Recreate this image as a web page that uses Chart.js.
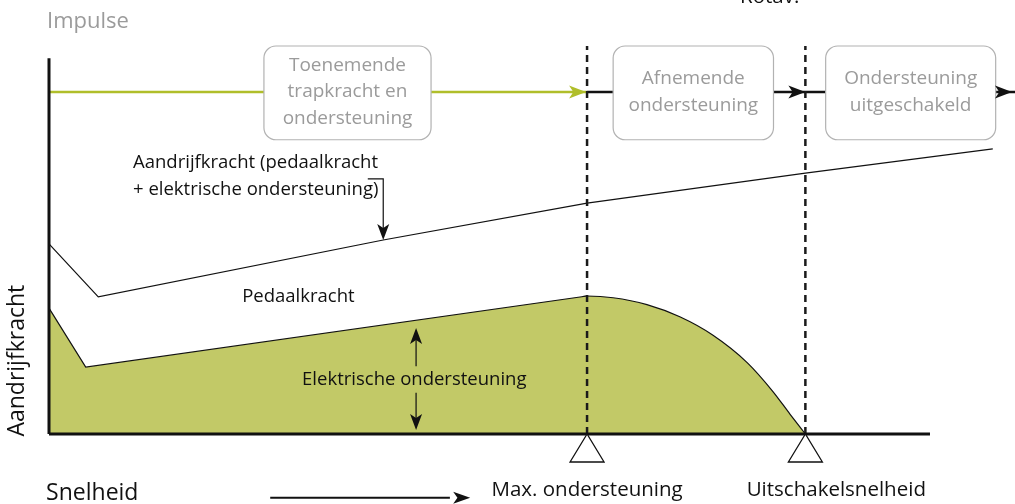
<!DOCTYPE html>
<html>
<head>
<meta charset="utf-8">
<script src="https://cdn.jsdelivr.net/npm/chart.js@4/dist/chart.umd.min.js"></script>
<style>
  html, body { margin: 0; padding: 0; background: #fff; }
  #wrap { width: 1015px; height: 504px; position: relative; }
</style>
</head>
<body>
<div id="wrap"><canvas id="assist-plot"></canvas></div>
<script>
// speed (x) and force (y) in relative units, 0..100
const drive_x = [0, 5.1, 34.6, 55.7, 78.3, 97.7]
const drive_y = [43.8, 31.6, 44.7, 53.2, 60.1, 65.7]

// assist: straight part up to max assist, then the rounded drop to cut-off
const assist_x = [0, 3.8, 55.7]
const assist_y = [29.0, 15.4, 31.8]
const assist_drop_x = [55.2, 55.7, 58.4, 61.9, 65.3, 68.7, 72.3, 74.9, 76.7, 78.3]
const assist_drop_y = [31.65, 31.8, 31.4, 29.8, 27.0, 22.8, 16.4, 9.9, 4.6, 0]

const marker_x = [55.7, 78.3]
const marker_labels = ['Max. ondersteuning', 'Uitschakelsnelheid']

const phase_labels = [
    ['Toenemende', 'trapkracht en', 'ondersteuning'],
    ['Afnemende', 'ondersteuning'],
    ['Ondersteuning', 'uitgeschakeld']
]
const phase_center_x = [30.9, 66.7, 89.2]
const phase_width = [17.3, 16.6, 17.6]

const impulse_y = 78.8
const axis_x_end = 91.2
const axis_y_end = 86.6
const dash_top = 89.4

const GREEN = 'rgb(176,190,42)'
const FILL = 'rgb(194,201,103)'
const GREY = 'rgb(155,155,155)'
const FONT = '"Open Sans", "Noto Sans", sans-serif'

function pts(xs, ys) { return xs.map((x, i) => ({x: x, y: ys[i]})) }

let datasets = [
    {   // elektrische ondersteuning, straight part
        data: pts(assist_x, assist_y),
        borderColor: '#111', borderWidth: 1.2, backgroundColor: FILL,
        fill: 'origin', order: 5
    },
    {   // elektrische ondersteuning, dropping part
        data: pts(assist_drop_x, assist_drop_y),
        borderColor: '#111', borderWidth: 1.2, backgroundColor: FILL,
        fill: 'origin', cubicInterpolationMode: 'monotone', order: 5
    },
    {   // aandrijfkracht
        data: pts(drive_x, drive_y),
        borderColor: '#111', borderWidth: 1.2, fill: false, order: 4
    },
    {   // impulse, green part
        data: [{x: 0, y: impulse_y}, {x: marker_x[0], y: impulse_y}],
        borderColor: GREEN, borderWidth: 2.5, order: 3
    },
    {   // impulse, black part
        data: [{x: marker_x[0], y: impulse_y}, {x: 100, y: impulse_y}],
        borderColor: '#111', borderWidth: 2.5, order: 3
    },
    {   // x axis
        data: [{x: 0, y: 0}, {x: axis_x_end, y: 0}],
        borderColor: '#111', borderWidth: 3, order: 1
    },
    {   // y axis
        data: [{x: 0, y: 0}, {x: 0, y: axis_y_end}],
        borderColor: '#111', borderWidth: 3, order: 1
    }
]
marker_x.forEach(mx => datasets.push({
    data: [{x: mx, y: 0}, {x: mx, y: dash_top}],
    borderColor: '#1a1a1a', borderWidth: 2.5, borderDash: [7, 5], order: 2
}))

function arrow_head(ctx, x, y, dir, len, half, color) {
    // dir: angle in radians, tip at (x,y)
    ctx.save()
    ctx.translate(x, y)
    ctx.rotate(dir)
    ctx.beginPath()
    ctx.moveTo(0, 0)
    ctx.lineTo(-len, -half)
    ctx.lineTo(-len * 0.75, 0)
    ctx.lineTo(-len, half)
    ctx.closePath()
    ctx.fillStyle = color
    ctx.fill()
    ctx.restore()
}

function round_rect(ctx, x, y, w, h, r) {
    ctx.beginPath()
    ctx.moveTo(x + r, y)
    ctx.arcTo(x + w, y, x + w, y + h, r)
    ctx.arcTo(x + w, y + h, x, y + h, r)
    ctx.arcTo(x, y + h, x, y, r)
    ctx.arcTo(x, y, x + w, y, r)
    ctx.closePath()
}

const annotations = {
    id: 'annotations',
    afterDatasetsDraw(chart) {
        const ctx = chart.ctx
        const sx = chart.scales.x, sy = chart.scales.y
        const px = v => sx.getPixelForValue(v)
        const py = v => sy.getPixelForValue(v)
        ctx.save()

        // phase boxes on the impulse line
        ctx.font = '19px ' + FONT
        ctx.textAlign = 'center'
        ctx.textBaseline = 'middle'
        phase_labels.forEach((lines, i) => {
            const l = px(phase_center_x[i] - phase_width[i] / 2)
            const r = px(phase_center_x[i] + phase_width[i] / 2)
            const t = py(89.4), b = py(67.8)
            round_rect(ctx, l, t, r - l, b - t, 12)
            ctx.fillStyle = '#fff'
            ctx.fill()
            ctx.strokeStyle = 'rgb(178,178,178)'
            ctx.lineWidth = 1.2
            ctx.stroke()
            ctx.fillStyle = GREY
            const cy = py(impulse_y)
            const lh = 26.5
            lines.forEach((s, k) => {
                ctx.fillText(s, px(phase_center_x[i]), cy + (k - (lines.length - 1) / 2) * lh)
            })
        })

        // impulse arrow heads
        arrow_head(ctx, px(marker_x[0]) - 1, py(impulse_y), 0, 17, 6.5, GREEN)
        arrow_head(ctx, px(marker_x[1]), py(impulse_y), 0, 17, 6.5, '#111')
        arrow_head(ctx, px(100) - 3, py(impulse_y), 0, 17, 6.5, '#111')

        // triangles under the x axis
        marker_x.forEach(mx => {
            ctx.beginPath()
            ctx.moveTo(px(mx), py(0))
            ctx.lineTo(px(mx) - 17, py(0) + 28)
            ctx.lineTo(px(mx) + 17, py(0) + 28)
            ctx.closePath()
            ctx.fillStyle = '#fff'
            ctx.fill()
            ctx.strokeStyle = '#111'
            ctx.lineWidth = 1.3
            ctx.stroke()
        })

        // bracket arrow to the drive force line
        ctx.strokeStyle = '#111'
        ctx.lineWidth = 1.2
        ctx.beginPath()
        ctx.moveTo(px(33.0), py(58.8))
        ctx.lineTo(px(34.6), py(58.8))
        ctx.lineTo(px(34.6), py(47))
        ctx.stroke()
        arrow_head(ctx, px(34.6), py(44.7), Math.PI / 2, 16, 6, '#111')

        // double arrow for elektrische ondersteuning
        ctx.beginPath()
        ctx.moveTo(px(38.0), py(22))
        ctx.lineTo(px(38.0), py(15.6))
        ctx.moveTo(px(38.0), py(9.5))
        ctx.lineTo(px(38.0), py(3.3))
        ctx.stroke()
        arrow_head(ctx, px(38.0), py(24.4), -Math.PI / 2, 16, 6, '#111')
        arrow_head(ctx, px(38.0), py(0.9), Math.PI / 2, 16, 6, '#111')

        // snelheid arrow
        ctx.lineWidth = 2
        ctx.beginPath()
        ctx.moveTo(px(22.9), py(-14.7))
        ctx.lineTo(px(41.5), py(-14.7))
        ctx.stroke()
        arrow_head(ctx, px(43.6), py(-14.7), 0, 17, 6, '#111')

        // texts
        ctx.textAlign = 'left'
        ctx.fillStyle = GREY
        ctx.font = '22px ' + FONT
        ctx.fillText('Impulse', px(-0.2), py(94.9))

        ctx.fillStyle = '#111'
        ctx.font = '18.5px ' + FONT
        ctx.fillText('Aandrijfkracht (pedaalkracht', px(8.7), py(62.5))
        ctx.fillText('+ elektrische ondersteuning)', px(8.7), py(56.3))
        ctx.fillText('Pedaalkracht', px(20.0), py(31.6))
        ctx.fillText('Elektrische ondersteuning', px(26.2), py(12.4))

        ctx.font = '20.5px ' + FONT
        ctx.textAlign = 'center'
        marker_x.forEach((mx, i) => {
            const off = i === 0 ? 0 : 3.2
            ctx.fillText(marker_labels[i], px(mx + off), py(-12.9))
        })
        ctx.fillText('Rotav.', px(74.6), py(100.6))

        ctx.textAlign = 'left'
        ctx.font = '23px ' + FONT
        ctx.fillText('Snelheid', px(-0.3), py(-13.8))

        ctx.save()
        ctx.translate(px(-3.3), py(-0.6))
        ctx.rotate(-Math.PI / 2)
        ctx.textAlign = 'left'
        ctx.fillText('Aandrijfkracht', 0, 0)
        ctx.restore()

        ctx.restore()
    }
}

document.addEventListener("DOMContentLoaded", () => {
    Chart.defaults.font.family = FONT
    Chart.defaults.responsive = true
    Chart.defaults.maintainAspectRatio = false
    Chart.defaults.animation = false
    Chart.defaults.plugins.legend.display = false
    Chart.defaults.plugins.tooltip.enabled = false

    let ctx = document.getElementById("assist-plot")
    new Chart(ctx, {
        type: 'scatter',
        data: {datasets: datasets.map(d => Object.assign({showLine: true, pointRadius: 0, tension: 0, clip: false}, d))},
        options: {
            layout: {padding: {left: 49, right: 0, top: 0, bottom: 70}},
            scales: {
                x: {type: 'linear', min: 0, max: 100, display: false},
                y: {type: 'linear', min: 0, max: 100, display: false}
            }
        },
        plugins: [annotations]
    })
})
</script>
</body>
</html>
